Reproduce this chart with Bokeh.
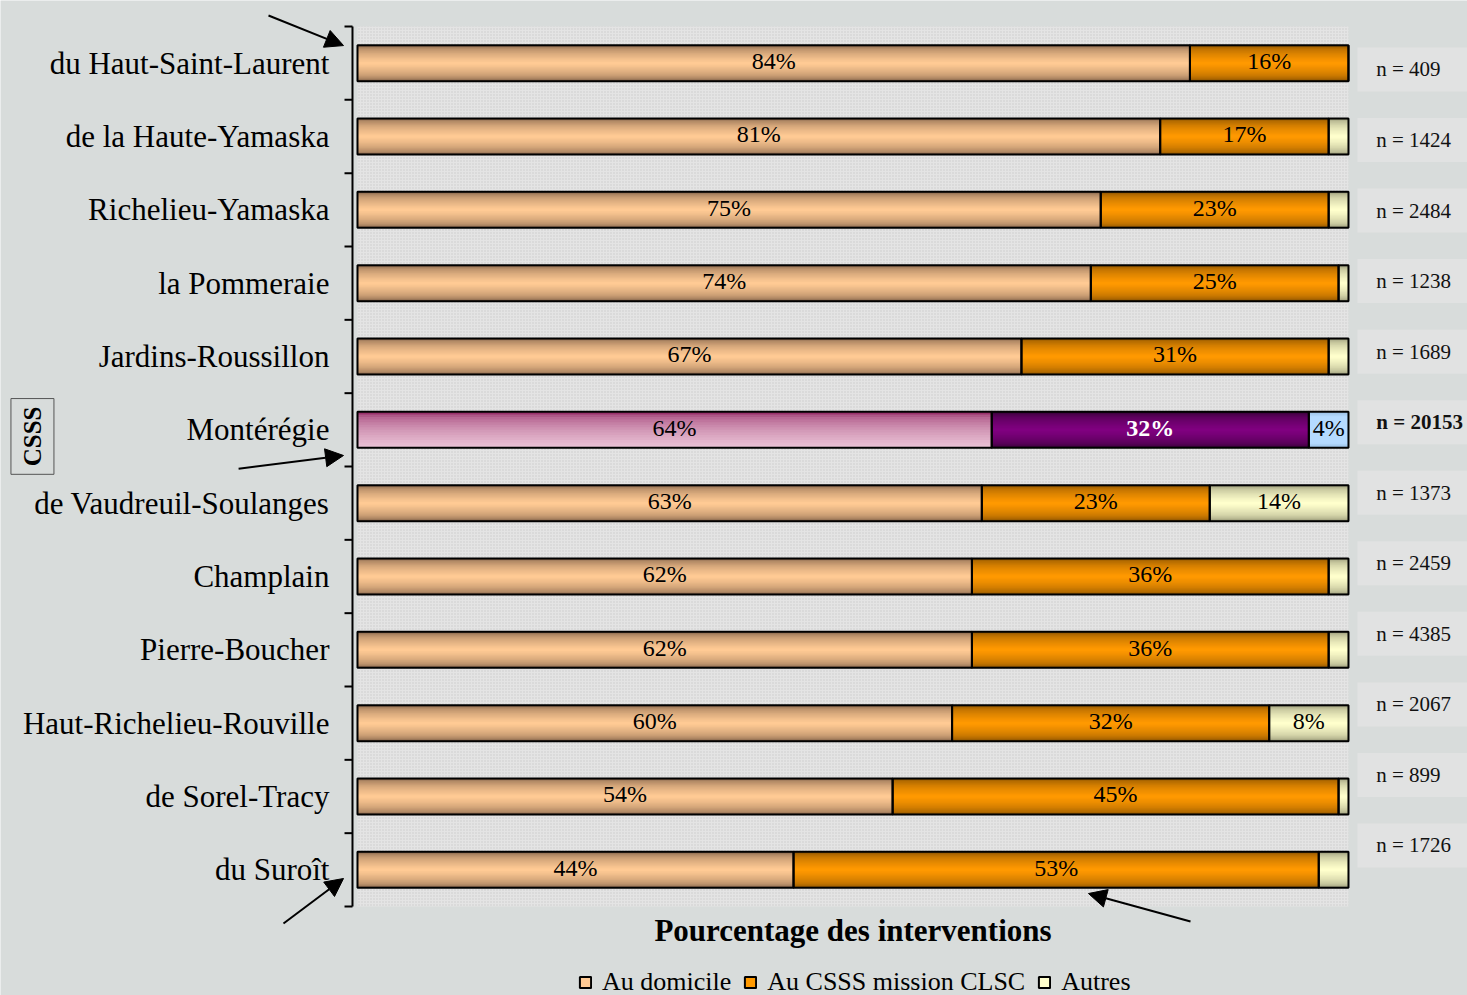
import math
from bokeh.plotting import figure
from bokeh.models import (ColumnDataSource, Arrow, NormalHead, Label, Legend, LegendItem)
from bokeh.embed import file_html
from bokeh.resources import INLINE
from bokeh.core.properties import value

# ---------------- data ----------------
categories = ["du Haut-Saint-Laurent", "de la Haute-Yamaska", "Richelieu-Yamaska",
              "la Pommeraie", "Jardins-Roussillon", "Montérégie",
              "de Vaudreuil-Soulanges", "Champlain", "Pierre-Boucher",
              "Haut-Richelieu-Rouville", "de Sorel-Tracy", "du Suroît"]
au_domicile = [84, 81, 75, 74, 67, 64, 63, 62, 62, 60, 54, 44]
au_csss     = [16, 17, 23, 25, 31, 32, 23, 36, 36, 32, 45, 53]
autres      = [0, 2, 2, 1, 2, 4, 14, 2, 2, 8, 1, 3]
n_values    = [409, 1424, 2484, 1238, 1689, 20153, 1373, 2459, 4385, 2067, 899, 1726]
highlight   = "Montérégie"
series_names = ["Au domicile", "Au CSSS mission CLSC", "Autres"]
x_title = "Pourcentage des interventions"
y_title = "CSSS"

# ---------------- style ----------------
SERIF = "Liberation Serif"
PAGE_BG = "#d8dcdb"
ncat = len(categories)
BAR_H = 0.49

normal_styles = [("#7c5d45", "#ffca94", "sym"),
                 ("#804c00", "#ff9900", "sym"),
                 ("#8f8f70", "#ffffcc", "sym")]
hl_styles = [("#98306a", "#e9c0d4", "top"),
             ("#2e002e", "#800080", "sym"),
             ("#9cc2e6", "#b5daff", "flat")]


def hex2rgb(h):
    h = h.lstrip("#")
    return tuple(int(h[i:i + 2], 16) for i in (0, 2, 4))


def mix(c1, c2, t):
    a, b = hex2rgb(c1), hex2rgb(c2)
    return "#%02x%02x%02x" % tuple(int(round(a[i] + (b[i] - a[i]) * t)) for i in range(3))


W, H = 1467, 995
p = figure(width=W, height=H, x_range=(-36.024, 112.01), y_range=(-1.2136, 12.3545),
           output_backend="svg", toolbar_location=None, x_axis_location=None,
           y_axis_location=None, min_border=0)
p.background_fill_color = PAGE_BG
p.border_fill_color = PAGE_BG
p.outline_line_color = None
p.grid.visible = False

# plot-area background (dotted)
p.quad(left=[0], right=[100], bottom=[0], top=[ncat], fill_color="#e4e4e4",
       line_color=None, hatch_pattern="dot", hatch_color="#c4c4c4", hatch_scale=3,
       hatch_alpha=0.8)

y_center = [ncat - i - 0.5 for i in range(ncat)]
series = [au_domicile, au_csss, autres]
lefts = [0.0] * ncat
N = 14
for s, vals in enumerate(series):
    left = list(lefts)
    right = [left[i] + vals[i] for i in range(ncat)]
    for k in range(N):
        frac = 1 - k / N
        ys, hs, cols = [], [], []
        for i in range(ncat):
            edge, base, mode = (hl_styles if categories[i] == highlight else normal_styles)[s]
            h = BAR_H * frac
            if mode == "top":
                t = (k / (N - 1)) ** 0.5
                ys.append(y_center[i] - BAR_H / 2 + h / 2)
            elif mode == "flat":
                t = min(1.0, (k / (N - 1)) * 4)
                ys.append(y_center[i])
            else:
                t = (k / (N - 1)) ** 0.45
                ys.append(y_center[i])
            hs.append(h)
            cols.append(mix(edge, base, t))
        src = ColumnDataSource(dict(y=ys, left=left, right=right, h=hs, c=cols))
        p.hbar(y="y", left="left", right="right", height="h", fill_color="c",
               line_color=None, source=src)
    lefts = right

# outlines
lefts = [0.0] * ncat
for s, vals in enumerate(series):
    right = [lefts[i] + vals[i] for i in range(ncat)]
    p.hbar(y=y_center, left=lefts, right=right, height=BAR_H, fill_alpha=0,
           line_color="black", line_width=2)
    lefts = right

# value labels
norm = dict(x=[], y=[], t=[])
bold = dict(x=[], y=[], t=[])
lefts = [0.0] * ncat
for s, vals in enumerate(series):
    for i in range(ncat):
        v = vals[i]
        if v >= 4:
            d = bold if (categories[i] == highlight and s == 1) else norm
            d["x"].append(lefts[i] + v / 2)
            d["y"].append(y_center[i] + 0.03)
            d["t"].append(f"{v}%")
    lefts = [lefts[i] + vals[i] for i in range(ncat)]
p.text(x="x", y="y", text="t", source=ColumnDataSource(norm), text_align="center",
       text_baseline="middle", text_font=value(SERIF), text_font_size="24px",
       text_color="black")
p.text(x="x", y="y", text="t", source=ColumnDataSource(bold), text_align="center",
       text_baseline="middle", text_font=value(SERIF), text_font_size="24px",
       text_color="white", text_font_style="bold")

# n labels on the right
n_y = [11.414 - i * 0.962 for i in range(ncat)]
p.quad(left=[100.9] * ncat, right=[112.1] * ncat, bottom=[y - 0.3 for y in n_y],
       top=[y + 0.3 for y in n_y], fill_color="#e1e2e2", line_color=None)
n_norm = dict(x=[], y=[], t=[])
n_bold = dict(x=[], y=[], t=[])
for i in range(ncat):
    d = n_bold if categories[i] == highlight else n_norm
    d["x"].append(102.8)
    d["y"].append(n_y[i])
    d["t"].append(f"n = {n_values[i]}")
p.text(x="x", y="y", text="t", source=ColumnDataSource(n_norm), text_align="left",
       text_baseline="middle", text_font=value(SERIF), text_font_size="21px",
       text_color="#111111")
p.text(x="x", y="y", text="t", source=ColumnDataSource(n_bold), text_align="left",
       text_baseline="middle", text_font=value(SERIF), text_font_size="21px",
       text_color="#111111", text_font_style="bold")

# category axis: line, boundary ticks, labels
AX_X = -0.505
TICK_X = -1.31
p.segment(x0=[AX_X], y0=[0], x1=[AX_X], y1=[ncat], line_color="black", line_width=2)
bounds = list(range(ncat + 1))
p.segment(x0=[TICK_X] * len(bounds), y0=bounds, x1=[AX_X] * len(bounds), y1=bounds,
          line_color="black", line_width=2)
p.text(x=[-2.83] * ncat, y=y_center, text=categories, text_align="right",
       text_baseline="middle", text_font=value(SERIF), text_font_size="31px",
       text_color="black")

# CSSS boxed label
p.add_layout(Label(x=-32.8, y=6.41, text=y_title, angle=math.pi / 2, text_align="center",
                   text_baseline="middle", text_font=SERIF, text_font_size="25px",
                   text_font_style="bold", text_color="black",
                   border_line_color="#555555", border_line_width=1, padding=8))

# x title
p.add_layout(Label(x=50, y=-0.33, text=x_title, text_align="center",
                   text_baseline="middle", text_font=SERIF, text_font_size="31px",
                   text_font_style="bold", text_color="black"))

# arrows
arrows = [((-8.98, 12.15), (-1.41, 11.74)),
          ((-12.0, 5.97), (-1.41, 6.15)),
          ((-7.47, -0.232), (-1.41, 0.382)),
          ((84.06, -0.205), (73.76, 0.177))]
for (xs, ys), (xe, ye) in arrows:
    p.add_layout(Arrow(x_start=xs, y_start=ys, x_end=xe, y_end=ye, line_width=2,
                       line_color="black",
                       end=NormalHead(size=18, fill_color="black", line_color="black")))

# legend
leg_colors = ["#ffca94", "#ff9900", "#ffffcc"]
items = []
for name, c in zip(series_names, leg_colors):
    r = p.quad(left=[-500], right=[-499], bottom=[-500], top=[-499], fill_color=c,
               line_color="black", line_width=2)
    items.append(LegendItem(label=name, renderers=[r]))
legend = Legend(items=items, orientation="horizontal", location=(578, -2),
                label_text_font=SERIF, label_text_font_size="26px",
                label_text_color="black", glyph_width=14,
                glyph_height=14, label_standoff=10, spacing=12, padding=2, margin=0,
                background_fill_alpha=0, border_line_color=None)
p.add_layout(legend)

open("out.html", "w").write(file_html(p, INLINE))
